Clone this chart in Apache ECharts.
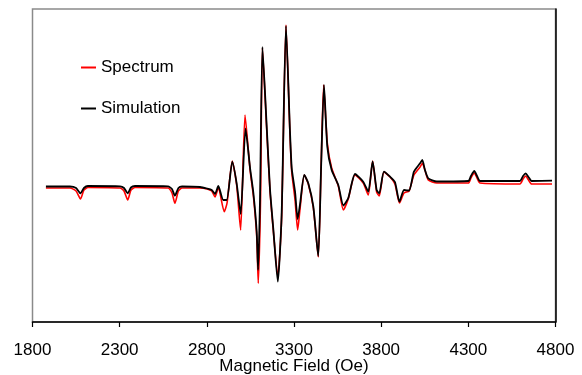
<!DOCTYPE html>
<html>
<head>
<meta charset="utf-8">
<script src="https://cdn.jsdelivr.net/npm/echarts@6/dist/echarts.min.js"></script>
<style>
html,body{margin:0;padding:0;background:#fff;}
#chart{width:582px;height:375px;}
</style>
</head>
<body>
<div id="chart"></div>
<script>
// Magnetic field (Oe) and intensity (arbitrary units)
const simField = [1877,2015,2050,2075,2095,2118,2302,2325,2346,2365,2388,2577,2600,2617,2637,2658,2761,2801,2828,2847,2866,2894,2914,2946,2971,2994,3022,3048,3067,3086,3094,3105,3119,3143,3162,3181,3207,3229,3254,3277,3287,3306,3321,3334,3359,3382,3411,3439,3455,3472,3491,3516,3554,3583,3611,3650,3697,3726,3751,3774,3789,3816,3851,3879,3905,3931,3960,3988,4023,4036,4051,4070,4119,4300,4315,4334,4350,4367,4596,4614,4629,4645,4663,4780];
const simValue = [-0.5,-0.5,-2,-7.3,-2,0,-0.3,-2,-7.3,-1.5,0,-0.3,-3,-9.7,-2,-0.5,-1,-2.5,-4,-8,0,-14,-14,24.3,2.7,-28,57.7,18,-7,-45.7,-84,-14,139,61,-2.3,-42.3,-95.7,-29,160,54.3,17.7,-5.7,-33,-19,11,2.7,-20.7,-70,16,101,39.3,16,1,-19.5,-12.3,12,4.3,-5.7,24.5,-4,-7.3,14.3,9.3,4,-15.7,-4,-4.5,14.3,22.7,26,16,7.7,4.5,5,10,15,10,5,5,10,12.7,9,5,5.3];

const specField = [1877,2015,2050,2075,2095,2118,2302,2325,2346,2365,2388,2577,2600,2617,2637,2658,2761,2801,2828,2847,2866,2900,2916,2946,2971,2994,3019,3048,3067,3086,3095,3108,3119,3143,3162,3181,3207,3229,3254,3277,3287,3306,3321,3334,3359,3382,3411,3439,3455,3470,3491,3516,3554,3583,3611,3650,3697,3726,3751,3774,3789,3816,3851,3879,3905,3931,3960,3988,4023,4036,4051,4070,4119,4300,4315,4334,4350,4367,4596,4614,4629,4645,4663,4780];
const specValue = [-2,-2,-5,-13,-4,-1.5,-2,-5,-14,-4,-1.5,-2,-7,-17.3,-5,-2,-2,-3,-5,-11,-2,-25.7,-17,25,1,-44,71,16,-10,-50,-97.3,-14,138,58,-4,-44,-91,-32,161,51,14,-14,-44,-24,11,2,-22,-71,16,101,43,18,0,-24,-13,11,3,-9,25,-6,-10,14,9,2,-17,-7,-5,11,19,22.7,16,6,3,3,8,13,8,3,2,7,10,6,2,2];

const xTicks = [1800,2300,2800,3300,3800,4300,4800];
const seriesNames = ['Spectrum','Simulation'];

const zip = (a,b) => a.map((v,i)=>[v,b[i]]);
const FONT = '"Liberation Sans", Arial, Helvetica, sans-serif';

const chart = echarts.init(document.getElementById('chart'), null, {renderer:'canvas'});
chart.setOption({
  animation:false,
  backgroundColor:'#fff',
  grid:{left:32.5,right:26.5,top:9,bottom:53,show:true,borderColor:'#8a8a8a',borderWidth:1.5,
    containLabel:false,outerBoundsMode:'none'},
  legend:{
    orient:'vertical',left:81,top:59,itemGap:24,padding:0,
    itemWidth:15,itemHeight:2,icon:'rect',
    textStyle:{fontFamily:FONT,fontSize:17,color:'#000'},
    data:seriesNames
  },
  xAxis:{
    type:'value',min:xTicks[0],max:xTicks[xTicks.length-1],interval:500,
    name:'Magnetic Field (Oe)',nameLocation:'middle',nameGap:36,nameMoveOverlap:false,
    nameTextStyle:{fontFamily:FONT,fontSize:17,color:'#000'},
    axisLine:{onZero:false,lineStyle:{color:'#000',width:1.5}},
    axisTick:{show:true,inside:false,length:5,lineStyle:{color:'#000',width:1.2}},
    axisLabel:{fontFamily:FONT,fontSize:17,color:'#000',margin:20,
      formatter:(v)=>String(v)},
    splitLine:{show:false}
  },
  yAxis:[
    {type:'value',min:-136,max:177,show:false,splitLine:{show:false}},
    {type:'value',min:-136,max:177,position:'right',
      axisLine:{show:true,lineStyle:{color:'#000',width:1.5}},
      axisTick:{show:false},axisLabel:{show:false},splitLine:{show:false}}
  ],
  series:[
    {name:seriesNames[0],type:'line',yAxisIndex:0,data:zip(specField,specValue),
      showSymbol:false,smooth:0.2,lineStyle:{color:'#ff0000',width:1.6},itemStyle:{color:'#ff0000'},z:2},
    {name:seriesNames[1],type:'line',yAxisIndex:0,data:zip(simField,simValue),
      showSymbol:false,smooth:0.2,lineStyle:{color:'#000',width:1.8},itemStyle:{color:'#000'},z:3}
  ]
});
</script>
</body>
</html>
